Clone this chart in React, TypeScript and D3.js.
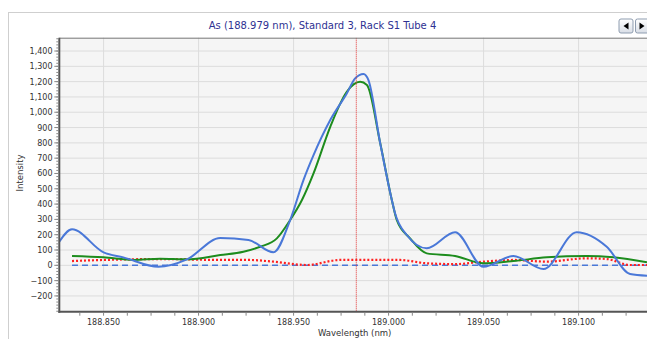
import * as d3 from "d3";

const TITLE = "As (188.979 nm), Standard 3, Rack S1 Tube 4";
const X_TICKS = [188.85, 188.9, 188.95, 189.0, 189.05, 189.1];
const Y_TICKS = [-200, -100, 0, 100, 200, 300, 400, 500, 600, 700, 800, 900, 1000, 1100, 1200, 1300, 1400];
const PEAK_LINE = 188.983;

// measured spectrum (blue)
const blueX = [188.8267, 188.8334, 188.85, 188.8604, 188.8789, 188.8939, 188.9114, 188.9263, 188.9394, 188.9482, 188.9552, 188.9605, 188.9693, 188.978, 188.9824, 188.9868, 188.9894, 188.9956, 189.0017, 189.0034, 189.0096, 189.0201, 189.035, 189.0499, 189.0657, 189.0815, 189.099, 189.1148, 189.1271, 189.136];
const blueY = [154, 235, 85, 52, -9, 39, 178, 165, 85, 296, 557, 720, 949, 1123, 1221, 1250, 1210, 797, 427, 340, 198, 111, 216, -9, 61, -24, 216, 121, -57, -68];

// fitted spectrum (green)
const greenX = [188.8334, 188.85, 188.8658, 188.8798, 188.8939, 188.9114, 188.9236, 188.9324, 188.9412, 188.9482, 188.9544, 188.9605, 188.9693, 188.978, 188.985, 188.9886, 188.9956, 189.0017, 189.0043, 189.0113, 189.0201, 189.035, 189.0499, 189.0657, 189.0832, 189.1043, 189.1183, 189.136];
const greenY = [61, 52, 35, 43, 39, 67, 89, 121, 176, 296, 427, 601, 905, 1134, 1199, 1178, 797, 427, 296, 176, 78, 61, 13, 28, 52, 61, 52, 20];

// background (red dotted)
const redX = [188.8334, 188.85, 188.8798, 188.9114, 188.9263, 188.9394, 188.957, 188.9745, 189.0061, 189.0201, 189.035, 189.0499, 189.0657, 189.0832, 189.1043, 189.1148, 189.1271, 189.136];
const redY = [28, 35, 41, 35, 35, 24, 2, 35, 35, 13, 8, 24, 35, 24, 46, 41, 2, 2];

// baseline (blue dashed)
const baseX = [188.8334, 189.136];
const baseY = [0, 0];

const W = 647;
const H = 339;
const L = 59.3;
const T = 37.7;
const B = 311.7;
const FONT = "'DejaVu Sans', Verdana, sans-serif";

export default function App() {
  const x = d3.scaleLinear().domain([188.8267, 189.136]).range([L, W]);
  const y = d3.scaleLinear().domain([-303, 1487]).range([B, T]);
  const line = d3
    .line<[number, number]>()
    .x((d) => x(d[0]))
    .y((d) => y(d[1]))
    .curve(d3.curveMonotoneX);
  const pts = (xs: number[], ys: number[]) => xs.map((v, i) => [v, ys[i]] as [number, number]);
  const fmt = d3.format(",");
  const minorX = d3.range(188.8375, 189.136, 0.0125);
  const minorY = d3.range(-300, 1487, 20);

  return (
    <svg
      width={W}
      height={H}
      style={{ position: "absolute", left: 0, top: 0, background: "#fff" }}
      fontFamily={FONT}
    >
      <defs>
        <clipPath id="plot">
          <rect x={L} y={T} width={W - L} height={B - T} />
        </clipPath>
        <linearGradient id="btn" x1="0" x2="0" y1="0" y2="1">
          <stop offset="0" stopColor="#ffffff" />
          <stop offset="1" stopColor="#d9dee6" />
        </linearGradient>
      </defs>
      <rect x={8.5} y={12.5} width={W} height={H} fill="#fff" stroke="#cfcfcf" />
      <text x={322.5} y={28.5} textAnchor="middle" fontSize={10} fill="#2e3192">
        {TITLE}
      </text>
      <g>
        <rect x={619} y={19} width={14} height={14} rx={2} fill="url(#btn)" stroke="#8f9db0" />
        <path d="M628.5,22.5 L623.5,26 L628.5,29.5 Z" fill="#000" />
        <rect x={635.5} y={19} width={14} height={14} rx={2} fill="url(#btn)" stroke="#8f9db0" />
        <path d="M639.5,22.5 L644.5,26 L639.5,29.5 Z" fill="#000" />
      </g>

      <rect x={L} y={T} width={W - L} height={B - T} fill="#f5f5f5" />
      <g stroke="#dcdcdc" strokeWidth={1}>
        {Y_TICKS.map((t) => (
          <line key={"gy" + t} x1={L} x2={W} y1={y(t)} y2={y(t)} />
        ))}
        {X_TICKS.map((t) => (
          <line key={"gx" + t} x1={x(t)} x2={x(t)} y1={T} y2={B} />
        ))}
      </g>

      <g clipPath="url(#plot)" fill="none">
        <path d={line(pts(baseX, baseY)) ?? ""} stroke="#4a78d8" strokeWidth={1.6} strokeDasharray="6,4" />
        <path d={line(pts(redX, redY)) ?? ""} stroke="#ff2020" strokeWidth={2.2} strokeDasharray="2,2" />
        <path d={line(pts(greenX, greenY)) ?? ""} stroke="#1d8c1d" strokeWidth={2} />
        <path d={line(pts(blueX, blueY)) ?? ""} stroke="#4a78d8" strokeWidth={2} />
        <line x1={x(PEAK_LINE)} x2={x(PEAK_LINE)} y1={T} y2={B} stroke="#e23030" strokeWidth={1} strokeDasharray="1,1" />
      </g>

      <line x1={L} x2={W} y1={T + 0.5} y2={T + 0.5} stroke="#777" />
      <line x1={L} x2={L} y1={T} y2={B + 1} stroke="#555" strokeWidth={2} />
      <line x1={L - 1} x2={W} y1={B} y2={B} stroke="#555" strokeWidth={2} />

      <g stroke="#888">
        {minorY.map((t) => (
          <line key={"my" + t} x1={L - 3} x2={L - 1} y1={y(t)} y2={y(t)} />
        ))}
        {Y_TICKS.map((t) => (
          <line key={"ty" + t} x1={L - 5} x2={L - 1} y1={y(t)} y2={y(t)} />
        ))}
        {minorX.map((t) => (
          <line key={"mx" + t} x1={x(t)} x2={x(t)} y1={B + 1} y2={B + 4} />
        ))}
      </g>

      <g fontSize={8} fill="#333">
        {Y_TICKS.map((t) => (
          <text key={"ly" + t} x={52.5} y={y(t) + 3} textAnchor="end">
            {fmt(t)}
          </text>
        ))}
        {X_TICKS.map((t) => (
          <text key={"lx" + t} x={x(t)} y={325} textAnchor="middle">
            {t.toFixed(3)}
          </text>
        ))}
      </g>
      <text x={354.7} y={336} textAnchor="middle" fontSize={8.5} fill="#333">
        Wavelength (nm)
      </text>
      <text transform="translate(23,173) rotate(-90)" textAnchor="middle" fontSize={8.5} fill="#333">
        Intensity
      </text>
    </svg>
  );
}
